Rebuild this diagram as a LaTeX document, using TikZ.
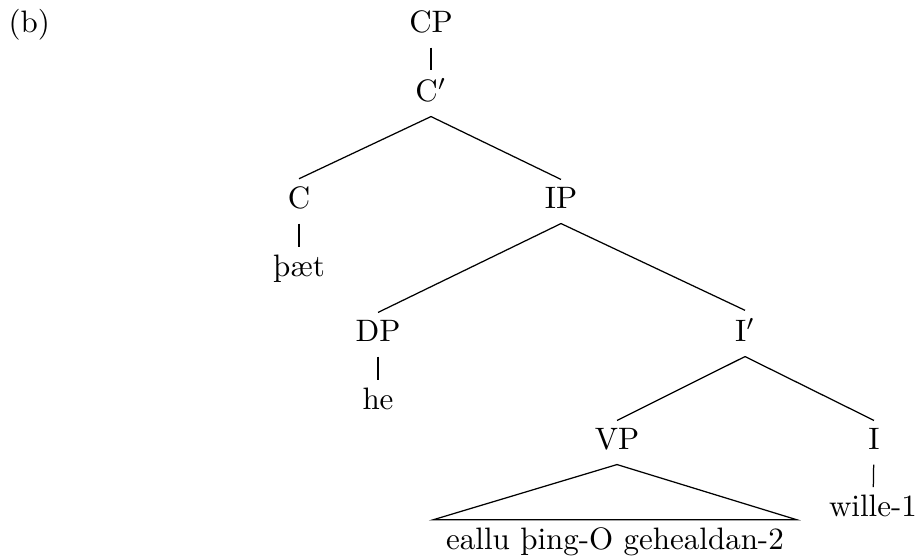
\documentclass[tikz,border=0pt]{standalone}
\usetikzlibrary{positioning}
\tikzset{
  cat/.style={
    anchor=base,
    text depth=2pt,
    inner sep=2.5pt},
  word/.style={
    anchor=base,
    inner sep=2.5pt},
  branch/.style={draw, thin}
}

\begin{document}
\begin{tikzpicture}
  [x=0.01134cm, y=-0.01134cm]
  \useasboundingbox (0,0) rectangle (918,560);
  \node[anchor=base west, inner sep=0pt] (label) at (8,33) {(b)};

  % categories
  \node[cat] (CP) at (431,33) {CP};
  \node[cat] (Cbar) at (431,102) {C$'$};
  \node[cat] (C) at (299,209) {C};
  \node[cat] (IP) at (561,209) {IP};
  \node[cat] (DP) at (378,342) {DP};
  \node[cat] (Ibar) at (745,342) {I$'$};
  \node[cat] (VP) at (617,450) {VP};
  \node[cat] (I) at (874,450) {I};

  % words
  \node[word] (thaet) at (299,277) {þæt};
  \node[word] (he) at (378,410) {he};
  \node[word] (wille) at (873,517) {wille-1};
  \node[word, inner xsep=4pt] (VPwords) at (615,550) {eallu þing-O gehealdan-2};

  \draw[branch] (CP) -- (Cbar);
  \draw[branch] (Cbar.south) -- (C.north);
  \draw[branch] (Cbar.south) -- (IP.north);
  \draw[branch] (C) -- (thaet);
  \draw[branch] (IP.south) -- (DP.north);
  \draw[branch] (IP.south) -- (Ibar.north);
  \draw[branch] (DP) -- (he);
  \draw[branch] (Ibar.south) -- (VP.north);
  \draw[branch] (Ibar.south) -- (I.north);
  \draw[branch] (I) -- (wille);
  \draw[branch] (VP.south) -- (VPwords.north west) -- (VPwords.north east) -- cycle;
\end{tikzpicture}
\end{document}
